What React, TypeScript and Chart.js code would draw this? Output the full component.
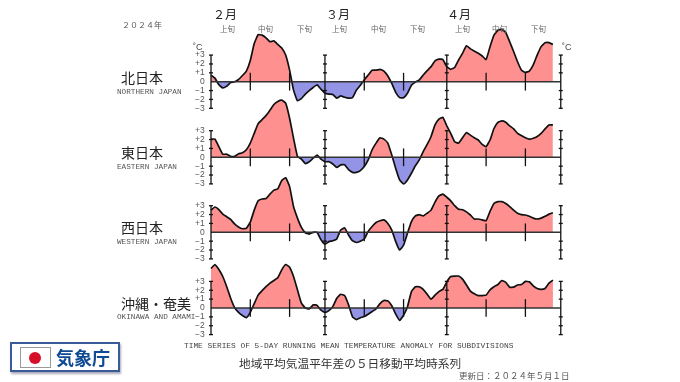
import React, { useEffect, useRef } from "react";
import { Chart, registerables } from "chart.js";

Chart.register(...registerables);

const northJapan = [0.75,0.4,-0.35,-0.7,-0.5,-0.1,0,0.25,0.7,1.2,2.4,4.3,5.3,5.25,4.95,4.5,4.6,4.2,3.8,3,1.3,-0.95,-2.15,-1.9,-1.4,-1,-0.65,-0.35,-0.85,-1.3,-1.4,-1.45,-1.85,-1.6,-1.75,-1.85,-1.8,-0.95,-0.4,0.2,0.75,1.3,1.3,1.4,1.2,0.65,-0.2,-1.2,-1.8,-1.8,-1.3,-0.4,-0.05,0.2,0.75,1.25,1.7,2.35,2.55,2.5,1.7,1.4,1.6,2.45,3.2,4.05,3.7,3.45,3.2,2.9,2.5,3.95,5.25,5.8,5.9,5.55,4.5,3.4,2.25,1.3,1.05,1.2,1.9,3,3.95,4.4,4.4,4.2];
const eastJapan = [2.05,2.05,1.2,0.35,0.35,0.1,0.1,0.4,0.5,0.85,1.6,2.7,3.8,4.25,4.7,5.3,5.95,6.3,6.45,6.1,4.4,2.15,0.1,-0.2,-0.7,-0.5,-0.1,0.25,-0.2,-0.5,-0.5,-0.75,-1.15,-0.85,-0.85,-1.4,-1.7,-1.7,-1.5,-1.05,-0.3,0.85,1.6,2.2,2.05,1.6,0.25,-1.25,-2.55,-3,-2.55,-1.8,-0.95,-0.3,0.65,1.45,2.35,3.65,4.3,4.5,3.55,2.7,1.75,1.6,2.2,2.8,2.5,2.2,1.95,1.45,1.2,1.95,3.25,3.95,4.1,3.95,3.55,3.2,2.7,2.45,2.2,2.05,2.15,2.35,2.7,3.2,3.65,3.65];
const westJapan = [2.5,2.85,2.55,2.05,1.75,1.45,0.95,0.6,0.4,0.45,1.15,2.5,3.55,3.75,3.8,4.3,4.75,4.9,5.85,6.15,5.15,2.9,1.6,0.55,-0.05,-0.2,0,0,-0.85,-1.35,-1.05,-0.95,-0.75,0.25,0.5,-0.3,-0.95,-1.15,-1,-0.75,0.1,0.65,1.1,1.3,1.4,1,0.25,-1.05,-2,-1.45,-0.1,1.2,1.85,2,1.85,2.15,2.5,3.4,4.1,4.3,3.95,3.55,3,2.6,2.55,2.3,1.95,1.5,1.5,1.4,1.3,2.35,3.25,3.45,3.45,3.25,2.9,2.5,2.15,2,1.95,1.8,1.6,1.5,1.6,1.8,2.05,2.2];
const okinawaAmami = [4.45,4.9,4.35,3.55,2.4,1.1,0.05,-0.5,-0.85,-1.1,-0.5,0.5,1.45,1.95,2.4,2.8,3.1,3.4,4.3,4.9,4.6,3.55,2.05,0.55,0,-0.1,0.35,0.3,-0.25,-0.5,-0.3,0.15,1.1,1.55,1.4,0.35,-1,-1.3,-1.1,-0.95,-0.7,-0.4,-0.1,0.5,0.85,0.8,0.25,-0.7,-1.4,-0.8,0.15,1.85,2.4,2.4,2.1,1.55,1,1.45,1.85,2.1,2.95,3.55,3.6,3.6,3.25,2.6,1.9,1.6,1.4,1.4,1.45,2.05,2.4,2.65,3.1,2.9,2.35,2.35,2.6,2.65,3,2.95,2.5,2.2,2.1,2.2,2.8,3.15];

const tickValues = [3, 2, 1, 0, -1, -2, -3];
const majorDays = [0, 29, 60, 89];
const minorDays = [10, 20, 39, 49, 70, 80];
const seriesList = [northJapan, eastJapan, westJapan, okinawaAmami];
const panelZero = [81.7, 157.3, 232.3, 308];

const W = 680;
const H = 382;
const DAY_PX = 3.93;
const UNIT_PX = 8.87;
const X0 = 211;

const panelAxes = {
  id: "panelAxes",
  afterDatasetsDraw(chart: any) {
    const { ctx, scales } = chart;
    const xs = scales.x;
    ctx.save();
    panelZero.forEach((_, p) => {
      const ys = scales[`y${p}`];
      const yZero = ys.getPixelForValue(0);
      ctx.strokeStyle = "#333";
      ctx.lineWidth = 1.4;
      ctx.beginPath();
      ctx.moveTo(xs.getPixelForValue(0), yZero);
      ctx.lineTo(xs.getPixelForValue(89), yZero);
      ctx.stroke();
      ctx.strokeStyle = "#111";
      ctx.lineWidth = 1.3;
      minorDays.forEach((d) => {
        const x = xs.getPixelForValue(d);
        ctx.beginPath();
        ctx.moveTo(x, ys.getPixelForValue(1));
        ctx.lineTo(x, ys.getPixelForValue(-1));
        ctx.stroke();
      });
      majorDays.forEach((d) => {
        const x = xs.getPixelForValue(d);
        ctx.beginPath();
        ctx.moveTo(x, ys.getPixelForValue(3));
        ctx.lineTo(x, ys.getPixelForValue(-3));
        ctx.stroke();
        tickValues.forEach((v) => {
          if (v === 0) return;
          const y = ys.getPixelForValue(v);
          ctx.beginPath();
          ctx.moveTo(x - 2, y);
          ctx.lineTo(x + 2, y);
          ctx.stroke();
        });
      });
    });
    ctx.restore();
  },
};

type Lbl = { t: string; x: number; y: number; s: number; c?: string; f?: string };
const CJK = "'Noto Sans CJK JP',sans-serif";
const MONO = "'Liberation Mono',monospace";
const labels: Lbl[] = [
  { t: "２０２４年", x: 122, y: 25, s: 8, c: "#555", f: CJK },
  { t: "２月", x: 213, y: 14, s: 12, c: "#222", f: CJK },
  { t: "３月", x: 326, y: 14, s: 12, c: "#222", f: CJK },
  { t: "４月", x: 447, y: 14, s: 12, c: "#222", f: CJK },
  { t: "上旬", x: 220, y: 29, s: 7.5, c: "#666", f: CJK },
  { t: "中旬", x: 258, y: 29, s: 7.5, c: "#666", f: CJK },
  { t: "下旬", x: 297, y: 29, s: 7.5, c: "#666", f: CJK },
  { t: "上旬", x: 332, y: 29, s: 7.5, c: "#666", f: CJK },
  { t: "中旬", x: 371, y: 29, s: 7.5, c: "#666", f: CJK },
  { t: "下旬", x: 410, y: 29, s: 7.5, c: "#666", f: CJK },
  { t: "上旬", x: 455, y: 29, s: 7.5, c: "#666", f: CJK },
  { t: "中旬", x: 492, y: 29, s: 7.5, c: "#666", f: CJK },
  { t: "下旬", x: 531, y: 29, s: 7.5, c: "#666", f: CJK },
  { t: "˚C", x: 193, y: 47, s: 9, c: "#444", f: "'Liberation Sans',sans-serif" },
  { t: "˚C", x: 562, y: 47, s: 9, c: "#444", f: "'Liberation Sans',sans-serif" },
  { t: "北日本", x: 121, y: 77, s: 14, c: "#222", f: CJK },
  { t: "東日本", x: 121, y: 152, s: 14, c: "#222", f: CJK },
  { t: "西日本", x: 121, y: 227, s: 14, c: "#222", f: CJK },
  { t: "沖縄・奄美", x: 121, y: 303, s: 14, c: "#222", f: CJK },
  { t: "NORTHERN JAPAN", x: 117, y: 93, s: 7.7, c: "#555", f: MONO },
  { t: "EASTERN JAPAN", x: 117, y: 168, s: 7.7, c: "#555", f: MONO },
  { t: "WESTERN JAPAN", x: 117, y: 243, s: 7.7, c: "#555", f: MONO },
  { t: "OKINAWA AND AMAMI", x: 117, y: 318, s: 7.7, c: "#555", f: MONO },
  { t: "TIME SERIES OF 5-DAY RUNNING MEAN TEMPERATURE ANOMALY FOR SUBDIVISIONS", x: 184, y: 346, s: 7.85, c: "#444", f: MONO },
  { t: "地域平均気温平年差の５日移動平均時系列", x: 239, y: 363, s: 11.7, c: "#333", f: CJK },
  { t: "更新日：２０２４年５月１日", x: 459, y: 375, s: 8.5, c: "#555", f: CJK },
];

export default function App() {
  const ref = useRef<HTMLCanvasElement>(null);
  useEffect(() => {
    const scales: any = {
      x: { type: "linear", display: false, min: -X0 / DAY_PX, max: (W - X0) / DAY_PX },
    };
    panelZero.forEach((y0, p) => {
      const common = {
        type: "linear",
        min: -(H - y0) / UNIT_PX,
        max: y0 / UNIT_PX,
        border: { display: false },
        grid: { display: false, drawTicks: false },
        afterBuildTicks: (s: any) => {
          s.ticks = tickValues.map((value) => ({ value }));
        },
        ticks: {
          autoSkip: false,
          padding: 0,
          color: "#555",
          font: { size: 8.5, lineHeight: 0, family: "'Liberation Sans',sans-serif" },
          callback: (v: number) => (v > 0 ? `+${v}` : v < 0 ? `\u2212${-v}` : "0"),
        },
      };
      scales[`y${p}`] = { ...common, position: { x: -1.6 } };
      scales[`r${p}`] = { ...common, position: { x: 92.2 } };
    });
    const datasets: any[] = seriesList.map((vals, p) => ({
      data: vals.map((y, x) => ({ x, y })),
      yAxisID: `y${p}`,
      borderColor: "#111",
      borderWidth: 1.7,
      pointRadius: 0,
      tension: 0.12,
      fill: { target: { value: 0 }, above: "#ff9090", below: "#9494e6" },
    }));
    const chart = new Chart(ref.current!, {
      type: "line",
      data: { datasets },
      options: {
        animation: false,
        responsive: false,
        layout: { padding: 0, autoPadding: false },
        plugins: { legend: { display: false }, tooltip: { enabled: false } },
        scales,
      },
      plugins: [panelAxes],
    } as any);
    return () => chart.destroy();
  }, []);

  return (
    <div style={{ position: "relative", width: W, height: H, overflow: "hidden", background: "#fff" }}>
      <style>{`body{margin:0;background:#fff}`}</style>
      <canvas ref={ref} width={W} height={H} style={{ position: "absolute", left: 0, top: 0, display: "block" }} />
      {labels.map((l, i) => (
        <span
          key={i}
          style={{
            position: "absolute",
            left: l.x,
            top: l.y,
            transform: "translateY(-50%)",
            fontSize: l.s,
            color: l.c,
            fontFamily: l.f,
            lineHeight: 1,
            whiteSpace: "pre",
          }}
        >
          {l.t}
        </span>
      ))}
      <div
        style={{
          position: "absolute",
          left: 10,
          top: 342,
          width: 106,
          height: 26,
          border: "2px solid #3a5a98",
          boxShadow: "1px 2px 2px #aab",
          background: "#fff",
        }}
      >
        <div
          style={{
            position: "absolute",
            left: 8,
            top: 3,
            width: 29,
            height: 19,
            border: "1px solid #999",
            background: "#fff",
          }}
        >
          <div
            style={{
              position: "absolute",
              left: 8,
              top: 4,
              width: 12,
              height: 12,
              borderRadius: "50%",
              background: "#d7102a",
            }}
          />
        </div>
        <span
          style={{
            position: "absolute",
            left: 44,
            top: 13,
            transform: "translateY(-50%)",
            fontFamily: CJK,
            fontWeight: 700,
            fontSize: 18,
            lineHeight: 1,
            color: "#0f4a94",
            whiteSpace: "pre",
          }}
        >
          気象庁
        </span>
      </div>
    </div>
  );
}
